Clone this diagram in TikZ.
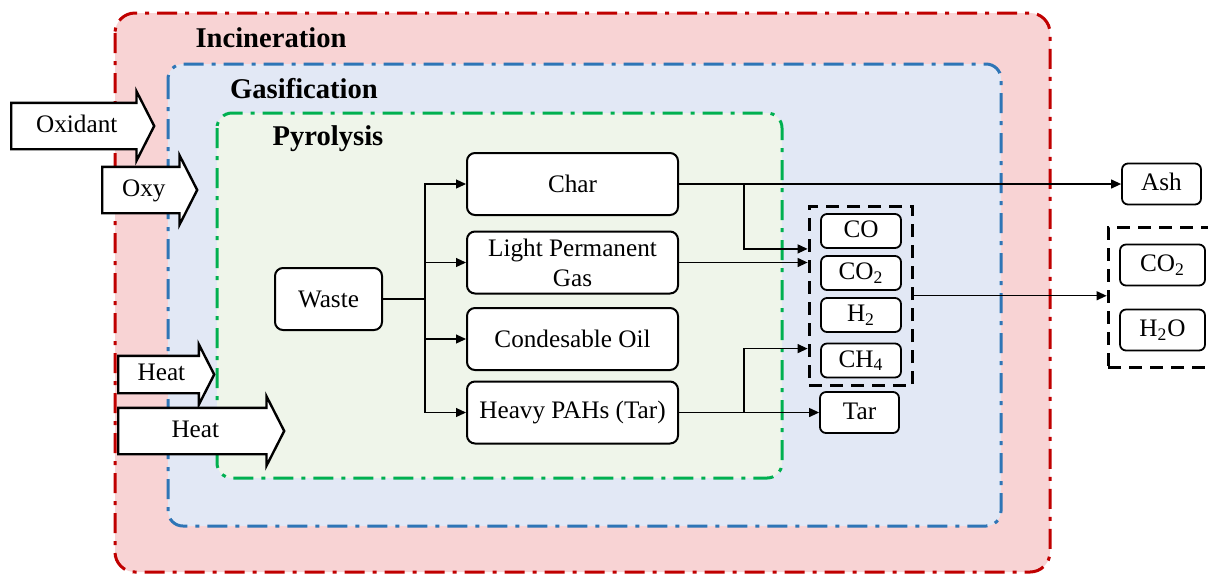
\documentclass[tikz,border=0pt]{standalone}
\usepackage{fontspec}
\setmainfont{Liberation Serif}
\usetikzlibrary{arrows.meta,positioning,fit,shapes.arrows,calc}
\definecolor{IncLine}{HTML}{C00000}
\definecolor{IncFill}{HTML}{F8D3D4}
\definecolor{GasLine}{HTML}{2E75B6}
\definecolor{GasFill}{HTML}{E2E8F5}
\definecolor{PyrLine}{HTML}{00B050}
\definecolor{PyrFill}{HTML}{EFF5EA}

\begin{document}
\begin{tikzpicture}[
  x=0.5pt,y=-0.5pt,
  every node/.style={font=\fontsize{12.6}{15}\selectfont,align=center},
  zone/.style={line width=1.5pt,rounded corners=10pt,dash pattern=on 10pt off 4pt on 2pt off 4pt},
  title/.style={font=\fontsize{14.3}{17}\selectfont\bfseries},
  prod/.style={draw,line width=1pt,fill=white,rounded corners=4pt,minimum width=105.5pt,minimum height=31pt,inner sep=1pt},
  gasbox/.style={draw,line width=0.9pt,fill=white,rounded corners=3pt,minimum width=40pt,minimum height=17pt,inner sep=1pt,text height=9pt,text depth=2.5pt},
  outbox/.style={gasbox,minimum width=39.5pt,minimum height=20.5pt},
  group/.style={draw,line width=1.5pt,dash pattern=on 6.5pt off 4pt},
  feed/.style={single arrow,draw,line width=1.2pt,fill=white,single arrow head extend=5.75pt,single arrow tip angle=126,inner xsep=1pt,text height=9pt,text depth=3pt,inner ysep=5pt,anchor=tail},
  arr/.style={-{Triangle[length=5pt,width=4.5pt]},line width=0.6pt}
]
\useasboundingbox (0,0) rectangle (1208,575);

% nested process zones
\draw[zone,draw=IncLine,fill=IncFill] (115,13) rectangle (1050,572);
\draw[zone,draw=GasLine,fill=GasFill,rounded corners=7.5pt] (168,64) rectangle (1001,526);
\draw[zone,draw=PyrLine,fill=PyrFill,rounded corners=7.5pt] (217,113) rectangle (782,478);
\node[title] (inctitle) at (271,38) {Incineration};
\node[title] (gastitle) at (304,89) {Gasification};
\node[title] (pyrtitle) at (328,139) {Pyrolysis};

% pyrolysis products
\node[prod,minimum width=53.5pt] (waste) at (328.5,299) {Waste};
\node[prod] (char) at (572.5,184) {Char};
\node[prod] (light) at (572.5,262.5) {Light Permanent\\Gas};
\node[prod] (oil) at (572.5,339) {Condesable Oil};
\node[prod] (pah) at (572.5,412.5) {Heavy PAHs (Tar)};

% syngas and outputs
\node[gasbox] (co) at (861,231) {CO};
\node[gasbox] (cotwo) at (861,273) {CO\textsubscript{2}};
\node[gasbox] (htwo) at (861,315) {H\textsubscript{2}};
\node[gasbox] (chfour) at (861,360.5) {CH\textsubscript{4}};
\node[group,fit=(co)(chfour),inner xsep=5.5pt,inner ysep=3.5pt] (syngas) {};
\node[outbox] (tar) at (859.5,412.5) {Tar};
\node[outbox] (ash) at (1161.5,184) {Ash};
\node[outbox,minimum width=42.5pt] (co2out) at (1162.5,265) {CO\textsubscript{2}};
\node[outbox,minimum width=42.5pt] (h2oout) at (1162.5,330) {H\textsubscript{2}O};
\node[group,fit=(co2out)(h2oout),inner xsep=5.5pt,inner ysep=8pt] (flue) {};

% feeds
\node[feed,minimum height=71.5pt] (oxidant) at (10,126) {Oxidant};
\node[feed,minimum height=47.5pt] (oxy) at (101,190) {Oxy};
\node[feed,minimum height=48pt,inner ysep=2.75pt] (heatgas) at (117,374.5) {Heat};
\node[feed,minimum height=83pt] (heatpyr) at (117,431) {Heat};

% connectors
\coordinate (fork) at ($(waste.east)+(42,0)$);
\draw[line width=0.6pt] (waste.east) -- (fork);
\foreach \n in {char,light,oil,pah}
  \draw[arr] (fork) |- (\n.west);
\draw[arr] (char.east) -- (ash.west);
\coordinate (charsplit) at ($(char.east)+(65,0)$);
\draw[arr] (charsplit) |- (syngas.west |- co.south);
\draw[arr] (light.east) -- (light.east -| syngas.west);
\coordinate (pahsplit) at ($(pah.east)+(65,0)$);
\coordinate (midin) at ($(syngas.west |- chfour.north)+(0,6)$);
\draw[arr] (pahsplit) |- (midin);
\draw[arr] (pah.east) -- (tar.west);
\draw[arr] (syngas.east) -- (syngas.east -| flue.west);
\end{tikzpicture}
\end{document}
